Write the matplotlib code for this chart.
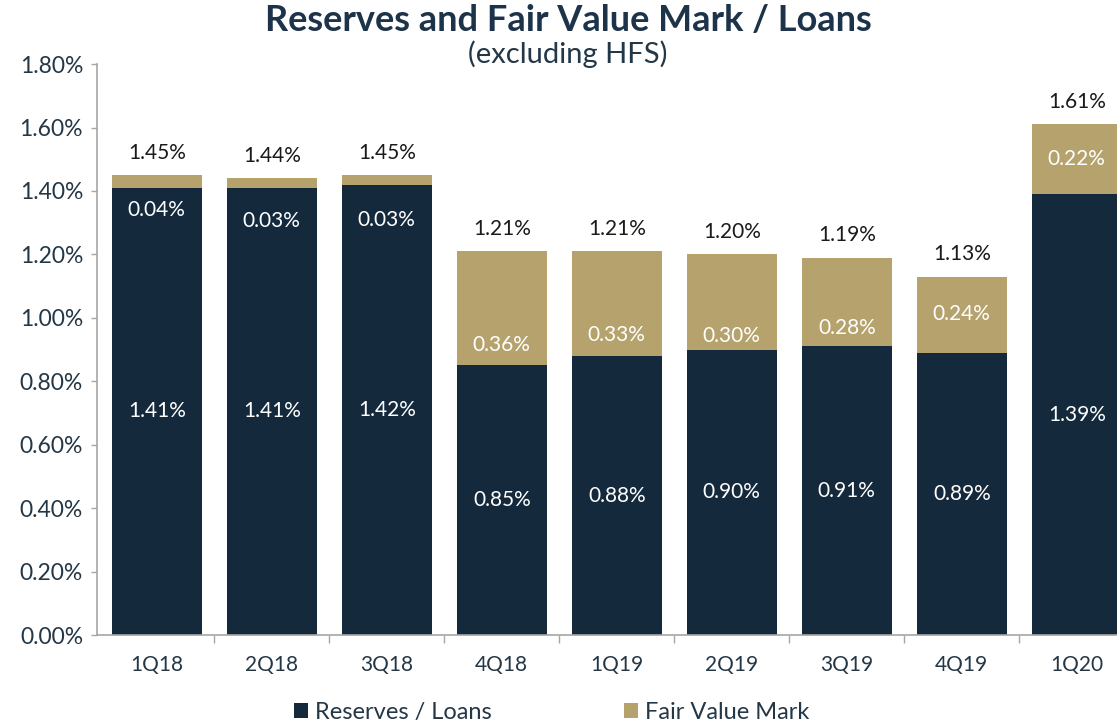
import matplotlib
matplotlib.use('Agg')
import matplotlib.pyplot as plt
import numpy as np

quarters = ['1Q18', '2Q18', '3Q18', '4Q18', '1Q19', '2Q19', '3Q19', '4Q19', '1Q20']
reserves = [1.41, 1.41, 1.42, 0.85, 0.88, 0.90, 0.91, 0.89, 1.39]
fair_value = [0.04, 0.03, 0.03, 0.36, 0.33, 0.30, 0.28, 0.24, 0.22]
totals = [1.45, 1.44, 1.45, 1.21, 1.21, 1.20, 1.19, 1.13, 1.61]
# where the fair value labels sit (small marks get their label inside the navy bar)
fv_label_y = [1.34, 1.305, 1.31, 0.915, 0.946, 0.943, 0.968, 1.012, 1.50]

NAVY = '#15293d'
TAN = '#b6a26c'
TEXT = '#243746'

plt.rcParams['font.family'] = ['Lato', 'DejaVu Sans']


def plot_chart(filepath):
    fig = plt.figure(figsize=(11.17, 7.25), dpi=100)
    ax = fig.add_axes([0.0868, 0.124, 0.9266, 0.7876])
    x = np.arange(len(quarters))

    ax.bar(x, reserves, width=0.78, color=NAVY, label='Reserves / Loans')
    ax.bar(x, fair_value, width=0.78, bottom=reserves, color=TAN, label='Fair Value Mark')

    for i in range(len(quarters)):
        ax.text(x[i], reserves[i] / 2, f'{reserves[i]:.2f}%', ha='center', va='center',
                color='white', fontsize=15)
        ax.text(x[i], fv_label_y[i], f'{fair_value[i]:.2f}%', ha='center', va='center',
                color='white', fontsize=15)
        ax.annotate(f'{totals[i]:.2f}%', (x[i], reserves[i] + fair_value[i]),
                    xytext=(0, 16), textcoords='offset points', ha='center', va='center',
                    color='#1a1a1a', fontsize=15)

    ax.set_xlim(-0.52, 8.48)
    ax.set_ylim(0, 1.8)
    ax.set_yticks(np.arange(0, 1.81, 0.2))
    ax.set_yticklabels([f'{v:.2f}%' for v in np.arange(0, 1.81, 0.2)])
    ax.set_xticks(x)
    ax.set_xticklabels(quarters)
    ax.set_xticks(np.arange(0.5, len(quarters) - 0.5, 1), minor=True)
    ax.tick_params(axis='x', which='major', length=0, pad=14, labelsize=15, labelcolor=TEXT)
    ax.tick_params(axis='x', which='minor', length=6, color='#a6a6a6', width=1)
    ax.tick_params(axis='y', length=4, color='#a6a6a6', width=1, pad=6,
                   labelsize=16.5, labelcolor=TEXT)

    for side in ['top', 'right']:
        ax.spines[side].set_visible(False)
    for side in ['left', 'bottom']:
        ax.spines[side].set_color('#a6a6a6')
        ax.spines[side].set_linewidth(1.2)

    fig.text(0.5085, 0.972, 'Reserves and Fair Value Mark / Loans', ha='center', va='center',
             fontsize=26, fontweight='bold', color='#1c3349')
    fig.text(0.5085, 0.925, '(excluding HFS)', ha='center', va='center',
             fontsize=21, color=TEXT)

    fig.legend(loc='center', bbox_to_anchor=(0.494, 0.017), ncol=2, frameon=False,
               fontsize=17, handlelength=0.6, handleheight=0.6, handletextpad=0.3,
               columnspacing=5.6, labelcolor=TEXT)

    fig.savefig(filepath, dpi=100)


if __name__ == '__main__':
    plot_chart('out.png')
